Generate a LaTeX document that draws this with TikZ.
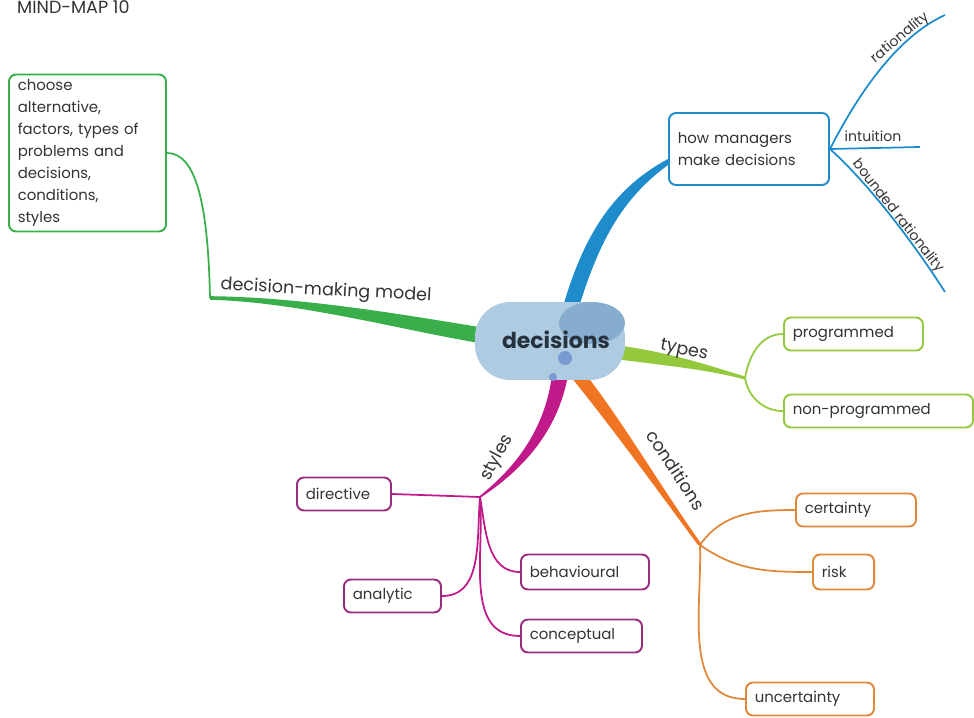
\documentclass[tikz,border=0pt]{standalone}
\usepackage{fontspec}
\setmainfont{Poppins}
\usetikzlibrary{positioning}

\definecolor{txt}{HTML}{333333}
\definecolor{hubtxt}{HTML}{26323E}
\definecolor{cblue}{HTML}{1E8CCB}
\definecolor{cgreen}{HTML}{3AAE4A}
\definecolor{clime}{HTML}{95C93D}
\definecolor{corange}{HTML}{F07522}
\definecolor{cmag}{HTML}{C01A8A}
\definecolor{bmag}{HTML}{9A2C80}
\definecolor{borange}{HTML}{E0883A}
\definecolor{hubblue}{HTML}{AECBE2}
\definecolor{hubdark}{HTML}{86ACCE}

\begin{document}
\begin{tikzpicture}[x=0.02cm, y=-0.02cm,
        leaf/.style = {draw, rounded corners=4pt, line width=1.1pt, fill=white, anchor=west,
                       align=left, inner xsep=5pt, inner ysep=2pt, minimum height=0.66cm,
                       font=\fontsize{8.5}{12.5}\selectfont, text=txt},
        hub/.style  = {fill=hubblue, rounded corners=20pt, minimum width=3cm, minimum height=1.56cm},
        twig/.style = {line width=1pt},
        lbl/.style  = {font=\fontsize{10}{12}\selectfont, text=txt, inner sep=1pt},
        sml/.style  = {font=\fontsize{8}{10}\selectfont, text=txt, inner sep=1pt}
    ]
    \useasboundingbox (0,0) rectangle (974,717);

    % title
    \node[font=\fontsize{10}{12}\selectfont, text=txt, anchor=base west] (title) at (11,13) {MIND-MAP 10};

    % leaves
    \node[leaf, draw=cblue, text width=2.85cm, minimum height=1.44cm] (hm) at (668,149) {how managers\\make decisions};
    \node[leaf, draw=cgreen, text width=2.79cm, minimum height=3.14cm] (choose) at (8,153)
        {choose\\alternative,\\factors, types of\\problems and\\decisions,\\conditions,\\styles};
    \node[leaf, draw=clime, text width=2.43cm] (prog) at (783,334) {programmed};
    \node[leaf, draw=clime, text width=3.43cm] (nonp) at (783,411) {non-programmed};
    \node[leaf, draw=borange, text width=2.05cm] (cert) at (795,510) {certainty};
    \node[leaf, draw=borange, text width=0.87cm, minimum height=0.7cm] (risk) at (812,572) {risk};
    \node[leaf, draw=borange, text width=2.21cm] (unc) at (745,699) {uncertainty};
    \node[leaf, draw=bmag, text width=1.53cm] (dir) at (296,494) {directive};
    \node[leaf, draw=bmag, text width=2.21cm, minimum height=0.7cm] (beh) at (520,572) {behavioural};
    \node[leaf, draw=bmag, text width=1.59cm] (ana) at (343,596) {analytic};
    \node[leaf, draw=bmag, text width=2.07cm] (con) at (520,636) {conceptual};

    % junctions
    \coordinate (bS) at (570,310);
    \coordinate (gS) at (485,336);
    \coordinate (gE) at (210,298);
    \coordinate (lS) at (615,352);
    \coordinate (lE) at (745,378);
    \coordinate (oS) at (575,372);
    \coordinate (oE) at (700,545);
    \coordinate (mS) at (560,375);
    \coordinate (mE) at (480,497);
    \coordinate (rat) at (945,15);
    \coordinate (int) at (920,147);
    \coordinate (bnd) at (945,292);

    % thick branches
    \fill[cblue] ([shift={(-8,0)}]bS) .. controls (582,240) and (610,190) .. ([shift={(0,10)}]hm.west)
        -- ([shift={(0,16)}]hm.west) .. controls (620,200) and (598,245) .. ([shift={(8,0)}]bS) -- cycle;
    \fill[cgreen] ([shift={(0,-8)}]gS) .. controls (400,314) and (300,297) .. ([shift={(0,-1.8)}]gE)
        -- ([shift={(0,1.8)}]gE) .. controls (300,302) and (400,330) .. ([shift={(0,8)}]gS) -- cycle;
    \fill[clime] ([shift={(0,-7)}]lS) .. controls (670,352) and (710,366) .. ([shift={(0,-1.6)}]lE)
        -- ([shift={(0,1.6)}]lE) .. controls (710,370) and (670,366) .. ([shift={(0,7)}]lS) -- cycle;
    \fill[corange] ([shift={(-8,0)}]oS) .. controls (610,425) and (650,480) .. ([shift={(-2,0)}]oE)
        -- ([shift={(2,0)}]oE) .. controls (655,478) and (625,425) .. ([shift={(9,0)}]oS) -- cycle;
    \fill[cmag] ([shift={(-8,0)}]mS) .. controls (545,430) and (515,468) .. ([shift={(-1.5,0)}]mE)
        -- ([shift={(1.5,0)}]mE) .. controls (522,470) and (558,432) .. ([shift={(8,0)}]mS) -- cycle;

    % centre
    \node[hub] (dec) at (550,341) {};
    \fill[hubdark] (592,323) ellipse [x radius=0.66cm, y radius=0.42cm];
    \fill[hubdark!90!blue] (565,358) circle [radius=0.14cm];
    \fill[hubdark!90!blue] (553,377) circle [radius=0.08cm];
    \node[font=\bfseries\fontsize{12.5}{14}\selectfont, text=hubtxt] (dect) at (556,340) {decisions};

    % twigs
    \draw[twig, cblue] (hm.east) .. controls (850,110) and (890,40) .. (rat);
    \draw[twig, cblue] (hm.east) -- (int);
    \draw[twig, cblue] (hm.east) .. controls (870,185) and (915,245) .. (bnd);
    \draw[twig, cgreen] (gE) .. controls (208,200) and (195,153) .. (choose.east);
    \draw[twig, clime] (lE) to[out=80, in=180] (prog.west);
    \draw[twig, clime] (lE) to[out=-80, in=180] (nonp.west);
    \draw[twig, borange] (oE) to[out=55, in=180] (cert.west);
    \draw[twig, borange] (oE) to[out=-35, in=180] (risk.west);
    \draw[twig, borange] (oE) to[out=-88, in=180] (unc.west);
    \draw[twig, cmag] (mE) -- (dir.east);
    \draw[twig, cmag] (mE) to[out=-95, in=0] (ana.east);
    \draw[twig, cmag] (mE) to[out=-80, in=180] (beh.west);
    \draw[twig, cmag] (mE) to[out=-85, in=180] (con.west);

    % branch labels
    \node[lbl, rotate=-3] (lgreen) at (326,291) {decision-making model};
    \node[lbl, rotate=-12] (llime) at (684,351) {types};
    \node[lbl, rotate=-57] (lorange) at (676,470) {conditions};
    \node[lbl, rotate=62] (lmag) at (497,458) {styles};
    \node[sml, rotate=40] (lrat) at (900,38) {rationality};
    \node[sml] (lint) at (873,136) {intuition};
    \node[sml, rotate=-52] (lbnd) at (898,216) {bounded rationality};
\end{tikzpicture}
\end{document}
